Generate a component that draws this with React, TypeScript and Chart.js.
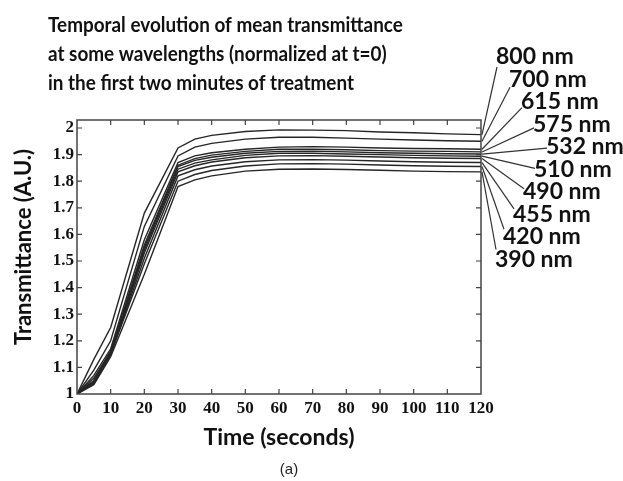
import React, { useEffect, useRef } from "react";
import { Chart, registerables } from "chart.js";

Chart.register(...registerables);

// ---- data ----
const times = [0, 5, 10, 20, 30, 35, 40, 50, 60, 70, 80, 90, 100, 110, 120];
const wavelengthLabels = ["800 nm", "700 nm", "615 nm", "575 nm", "532 nm", "510 nm", "490 nm", "455 nm", "420 nm", "390 nm"];
const t800 = [1, 1.13, 1.25, 1.68, 1.925, 1.958, 1.972, 1.987, 1.993, 1.992, 1.99, 1.985, 1.982, 1.978, 1.975];
const t700 = [1, 1.09, 1.2, 1.63, 1.895, 1.928, 1.942, 1.958, 1.965, 1.965, 1.962, 1.958, 1.955, 1.952, 1.95];
const t615 = [1, 1.07, 1.17, 1.58, 1.87, 1.895, 1.907, 1.92, 1.928, 1.93, 1.928, 1.925, 1.923, 1.922, 1.92];
const t575 = [1, 1.06, 1.16, 1.56, 1.86, 1.885, 1.898, 1.912, 1.92, 1.92, 1.918, 1.915, 1.913, 1.912, 1.91];
const t532 = [1, 1.05, 1.16, 1.55, 1.855, 1.878, 1.89, 1.905, 1.912, 1.913, 1.91, 1.907, 1.905, 1.903, 1.902];
const t510 = [1, 1.05, 1.155, 1.54, 1.845, 1.868, 1.88, 1.897, 1.905, 1.905, 1.902, 1.9, 1.897, 1.895, 1.894];
const t490 = [1, 1.045, 1.15, 1.53, 1.835, 1.858, 1.872, 1.888, 1.895, 1.896, 1.894, 1.891, 1.888, 1.886, 1.885];
const t455 = [1, 1.04, 1.15, 1.51, 1.82, 1.843, 1.857, 1.873, 1.88, 1.881, 1.879, 1.876, 1.873, 1.871, 1.87];
const t420 = [1, 1.04, 1.15, 1.49, 1.8, 1.825, 1.84, 1.857, 1.865, 1.866, 1.864, 1.861, 1.858, 1.856, 1.855];
const t390 = [1, 1.035, 1.14, 1.45, 1.78, 1.805, 1.82, 1.838, 1.845, 1.846, 1.844, 1.841, 1.838, 1.836, 1.835];
const seriesValues = [t800, t700, t615, t575, t532, t510, t490, t455, t420, t390];
const xTicks = [0, 10, 20, 30, 40, 50, 60, 70, 80, 90, 100, 110, 120];
const yTicks = [1, 1.1, 1.2, 1.3, 1.4, 1.5, 1.6, 1.7, 1.8, 1.9, 2];
const titleLines = [
  "Temporal evolution of mean transmittance",
  "at some wavelengths (normalized at t=0)",
  "in the first two minutes of treatment",
];
const xTitle = "Time (seconds)";
const yTitle = "Transmittance (A.U.)";
const caption = "(a)";

// ---- layout (pixels) ----
const W = 623;
const H = 481;
const labelDx = [15, 28, 40, 52, 65, 53, 42, 32, 22, 14];
const labelTop = 57;
const labelStep = 22.5;

const SANS = "Lato, 'Open Sans', sans-serif";
const SERIF = "'Liberation Serif', 'DejaVu Serif', serif";

const decorPlugin = {
  id: "decor",
  afterDatasetsDraw(chart: any) {
    const { ctx, chartArea, scales } = chart;
    const { left, right, top, bottom } = chartArea;
    const xs = scales.x;
    const ys = scales.y;
    ctx.save();
    ctx.strokeStyle = "#444";
    ctx.lineWidth = 1.5;
    ctx.strokeRect(left, top, right - left, bottom - top);
    ctx.lineWidth = 1.2;
    const tl = 5;
    ctx.beginPath();
    xTicks.forEach((v) => {
      const px = xs.getPixelForValue(v);
      if (px <= left + 1 || px >= right - 1) return;
      ctx.moveTo(px, bottom);
      ctx.lineTo(px, bottom - tl);
      ctx.moveTo(px, top);
      ctx.lineTo(px, top + tl);
    });
    yTicks.forEach((v) => {
      const py = ys.getPixelForValue(v);
      if (py >= bottom - 1 || py <= top + 1) return;
      ctx.moveTo(left, py);
      ctx.lineTo(left + tl, py);
      ctx.moveTo(right, py);
      ctx.lineTo(right - tl, py);
    });
    ctx.stroke();
    ctx.restore();
  },
  afterDraw(chart: any) {
    const { ctx, chartArea, scales } = chart;
    const ys = scales.y;
    ctx.save();
    ctx.fillStyle = "#111";
    // title (slightly condensed)
    ctx.font = `bold 21px ${SANS}`;
    ctx.textAlign = "left";
    ctx.textBaseline = "alphabetic";
    titleLines.forEach((line, i) => {
      ctx.save();
      ctx.translate(48, 32 + i * 29);
      ctx.scale(0.9, 1);
      ctx.fillText(line, 0, 0);
      ctx.restore();
    });
    // y axis title
    ctx.save();
    ctx.font = `bold 22px ${SANS}`;
    ctx.textAlign = "center";
    ctx.textBaseline = "middle";
    ctx.translate(24, 247);
    ctx.rotate(-Math.PI / 2);
    ctx.fillText(yTitle, 0, 0);
    ctx.restore();
    // wavelength labels + leader lines
    ctx.font = `bold 23px ${SANS}`;
    ctx.textAlign = "left";
    ctx.textBaseline = "middle";
    ctx.strokeStyle = "#333";
    ctx.lineWidth = 1.2;
    wavelengthLabels.forEach((lab, i) => {
      const lx = chartArea.right + labelDx[i];
      const ly = labelTop + i * labelStep;
      ctx.fillText(lab, lx, ly);
      const vals = seriesValues[i];
      const sy = ys.getPixelForValue(vals[vals.length - 1]);
      const dy = 10 - (20 * i) / (wavelengthLabels.length - 1);
      ctx.beginPath();
      ctx.moveTo(chartArea.right + 1, sy);
      ctx.lineTo(lx + 1, ly + dy);
      ctx.stroke();
    });
    // caption
    ctx.font = `15px 'Liberation Sans', Arial, sans-serif`;
    ctx.textAlign = "center";
    ctx.fillStyle = "#222";
    ctx.fillText(caption, 289, 470);
    ctx.restore();
  },
};

export default function App() {
  const canvasRef = useRef<HTMLCanvasElement | null>(null);

  useEffect(() => {
    const canvas = canvasRef.current;
    if (!canvas) return;
    const datasets = seriesValues.map((vals, i) => ({
      label: wavelengthLabels[i],
      data: times.map((t, j) => ({ x: t, y: vals[j] })),
      borderColor: "#262626",
      borderWidth: 1.4,
      pointRadius: 0,
      tension: 0,
      fill: false,
    }));
    const chart = new Chart(canvas, {
      type: "line",
      data: { datasets },
      plugins: [decorPlugin],
      options: {
        animation: false,
        responsive: false,
        maintainAspectRatio: false,
        layout: { padding: { top: 120, right: 142, left: 0, bottom: 0 } },
        plugins: {
          legend: { display: false },
          tooltip: { enabled: false },
          title: { display: false },
        },
        scales: {
          x: {
            type: "linear",
            min: 0,
            max: 120,
            afterBuildTicks: (scale: any) => {
              scale.ticks = xTicks.map((v) => ({ value: v }));
            },
            afterFit: (scale: any) => {
              scale.height = 87;
            },
            grid: { display: false, drawTicks: false },
            border: { display: false },
            ticks: {
              padding: 4,
              maxRotation: 0,
              autoSkip: false,
              color: "#111",
              font: { family: SERIF, size: 17, weight: "bold" },
              callback: (v: any) => String(v),
            },
            title: {
              display: true,
              text: xTitle,
              color: "#111",
              font: { family: SANS, size: 23, weight: "bold" },
              padding: { top: 0, bottom: 30 },
            },
          },
          y: {
            type: "linear",
            min: 1,
            max: 2.03,
            afterBuildTicks: (scale: any) => {
              scale.ticks = yTicks.map((v) => ({ value: v }));
            },
            afterFit: (scale: any) => {
              scale.width = 77;
            },
            grid: { display: false, drawTicks: false },
            border: { display: false },
            ticks: {
              padding: 3,
              autoSkip: false,
              color: "#111",
              font: { family: SERIF, size: 17, weight: "bold" },
              callback: (v: any) => String(Number(Number(v).toFixed(1))),
            },
            title: { display: false },
          },
        },
      } as any,
    });
    return () => chart.destroy();
  }, []);

  return (
    <div style={{ position: "absolute", left: 0, top: 0, width: W, height: H, background: "#fff" }}>
      <canvas ref={canvasRef} width={W} height={H} style={{ display: "block" }} />
    </div>
  );
}
